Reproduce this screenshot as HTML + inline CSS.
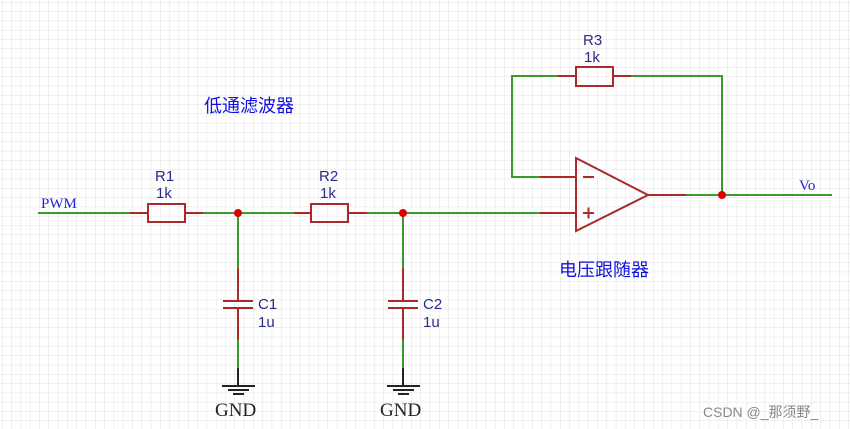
<!DOCTYPE html>
<html><head><meta charset="utf-8"><style>
html,body{margin:0;padding:0;background:#fff}
svg{display:block}
</style></head><body>
<svg width="850" height="429" viewBox="0 0 850 429" xmlns="http://www.w3.org/2000/svg">
<defs>
<pattern id="g" x="2" y="2" width="9.3" height="9.3" patternUnits="userSpaceOnUse">
<path d="M0 0H9.3M0 0V9.3" stroke="#e2e2e2" stroke-width="1" fill="none"/>
</pattern>
</defs>
<rect width="850" height="429" fill="#fff"/>
<rect width="850" height="429" fill="url(#g)"/>
<g stroke-width="2" fill="none" stroke-linecap="butt">
<g stroke="#3a9a2a">
<path d="M38 213H130"/>
<path d="M203 213H294"/>
<path d="M367 213H540"/>
<path d="M540 177H512V76H558"/>
<path d="M631 76H722V195"/>
<path d="M686 195H832"/>
<path d="M238 213V268M238 340V368"/>
<path d="M403 213V268M403 340V368"/>
</g>
<g stroke="#a82a2a">
<path d="M130 213H148M185 213H203"/>
<rect x="148" y="204" width="37" height="18"/>
<path d="M294 213H311M348 213H367"/>
<rect x="311" y="204" width="37" height="18"/>
<path d="M558 76H576M613 76H631"/>
<rect x="576" y="67" width="37" height="19"/>
<path d="M238 268V301M223 301H253M223 308H253M238 308V340"/>
<path d="M403 268V301M388 301H418M388 308H418M403 308V340"/>
<path d="M576 158V231L648 195Z"/>
<path d="M540 177H576M540 213H576M648 195H686"/>
<path d="M583 177H594M583 213H594M588.5 207.5V218.5"/>
</g>
<g stroke="#222">
<path d="M238 368V386M222 386H255M228 390H249M233 394H244"/>
<path d="M403 368V386M387 386H420M393 390H414M398 394H409"/>
</g>
</g>
<circle cx="238" cy="213" r="4" fill="#d00"/>
<circle cx="403" cy="213" r="4" fill="#d00"/>
<circle cx="722" cy="195" r="4" fill="#d00"/>
<g font-family="Liberation Sans, sans-serif" font-size="15" fill="#2a2a8a">
<text x="155" y="181">R1</text><text x="156" y="198">1k</text>
<text x="319" y="181">R2</text><text x="320" y="198">1k</text>
<text x="583" y="45">R3</text><text x="584" y="62">1k</text>
<text x="258" y="309">C1</text><text x="258" y="327">1u</text>
<text x="423" y="309">C2</text><text x="423" y="327">1u</text>
</g>
<g font-family="Liberation Serif, serif" fill="#2020e0" font-size="15">
<text x="41" y="208">PWM</text>
<text x="799" y="190">Vo</text>
</g>
<g font-family="Liberation Serif, serif" fill="#222" font-size="19">
<text x="215" y="416">GND</text>
<text x="380" y="416">GND</text>
</g>
<g font-family="Liberation Sans, 'Noto Sans CJK SC', sans-serif" fill="#1010e0" font-size="18">
<text x="204" y="112">低通滤波器</text>
<text x="559" y="276">电压跟随器</text>
</g>
<text x="703" y="417" font-family="Liberation Sans, 'Noto Sans CJK SC', sans-serif" font-size="14" fill="#888">CSDN @_那须野_</text>
</svg>
</body></html>
